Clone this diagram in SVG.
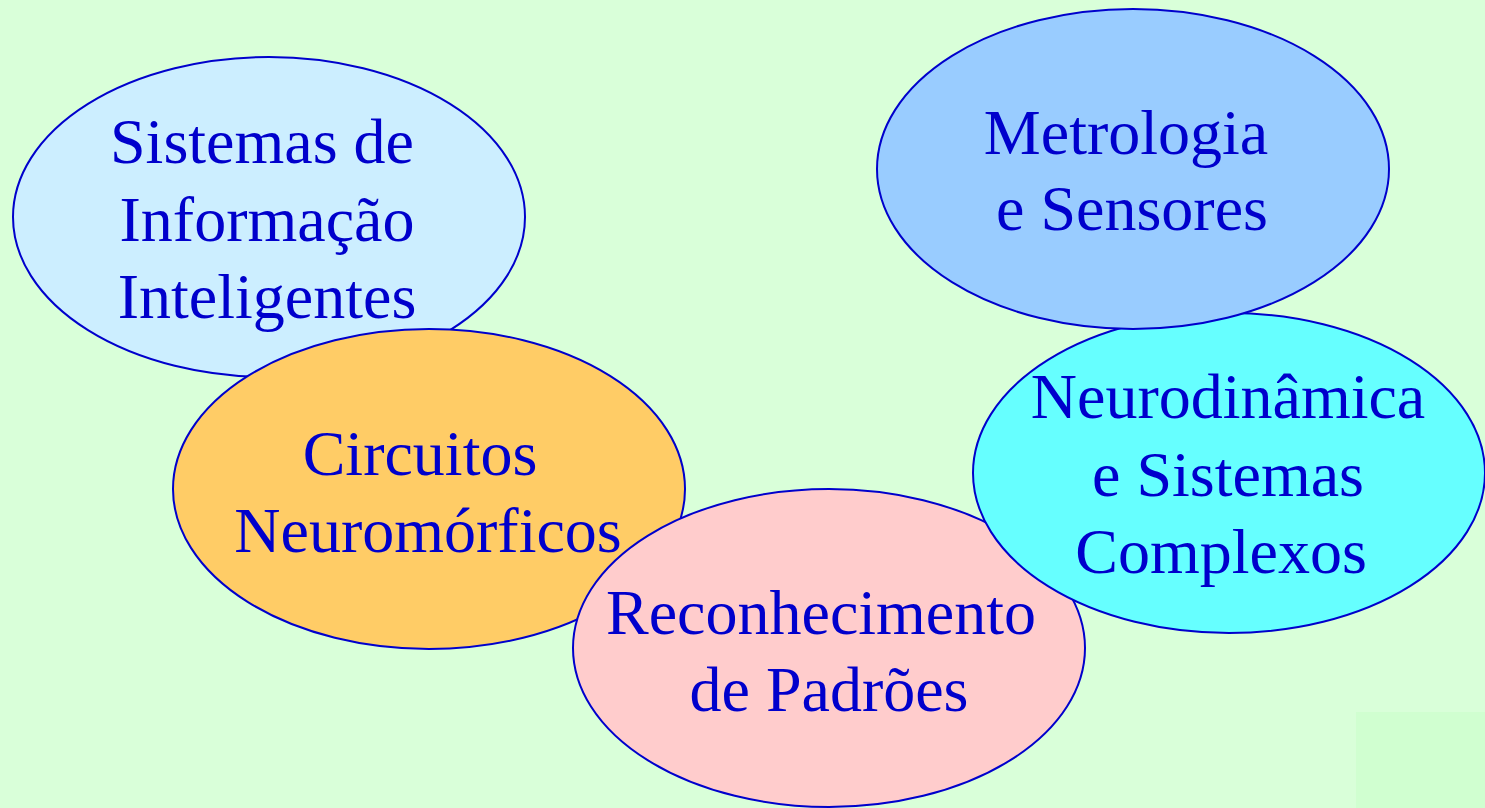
<svg xmlns="http://www.w3.org/2000/svg" width="1485" height="808" viewBox="0 0 1485 808">
<style>
.n ellipse{stroke:#0000cc;stroke-width:2}
.n text{font-family:"Liberation Serif","Times New Roman",serif;font-size:64px;fill:#0000cc;text-anchor:middle}
</style>
<rect x="0" y="0" width="1485" height="808" fill="#d9ffd9"/>
<rect x="1356" y="712" width="129" height="96" fill="#d0ffd0"/>
<g id="connectors"/>
<g id="sistemas" class="n">
<ellipse cx="269" cy="217" rx="256" ry="160" fill="#cceeff"/>
<text x="262" y="163">Sistemas de</text>
<text x="267" y="241">Informação</text>
<text x="267" y="318">Inteligentes</text>
</g>
<g id="circuitos" class="n">
<ellipse cx="429" cy="489" rx="256" ry="160" fill="#ffcc66"/>
<text x="420" y="475">Circuitos</text>
<text x="428" y="552">Neuromórficos</text>
</g>
<g id="reconhecimento" class="n">
<ellipse cx="829" cy="648" rx="256" ry="159" fill="#ffcccc"/>
<text x="821" y="634">Reconhecimento</text>
<text x="829" y="711">de Padrões</text>
</g>
<g id="neurodinamica" class="n">
<ellipse cx="1229" cy="473" rx="256" ry="160" fill="#66ffff"/>
<text x="1228" y="418">Neurodinâmica</text>
<text x="1228" y="496">e Sistemas</text>
<text x="1221" y="573">Complexos</text>
</g>
<g id="metrologia" class="n">
<ellipse cx="1133" cy="169" rx="256" ry="160" fill="#99ccff"/>
<text x="1126" y="154">Metrologia</text>
<text x="1132" y="230">e Sensores</text>
</g>
</svg>
